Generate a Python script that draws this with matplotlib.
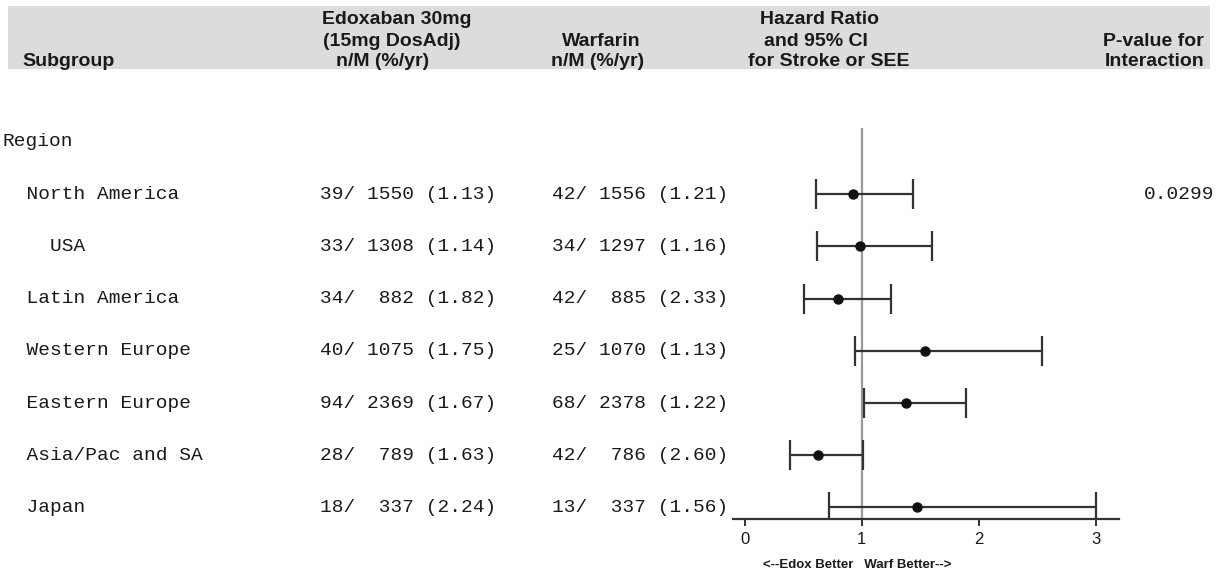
import numpy as np
import matplotlib
matplotlib.use('Agg')
import matplotlib.pyplot as plt
from matplotlib.patches import Rectangle
from matplotlib.transforms import blended_transform_factory

# data
group_label = 'Region'
subgroups = ['North America', 'USA', 'Latin America', 'Western Europe',
             'Eastern Europe', 'Asia/Pac and SA', 'Japan']
indent = [2, 4, 2, 2, 2, 2, 2]
edox_n = [39, 33, 34, 40, 94, 28, 18]
edox_m = [1550, 1308, 882, 1075, 2369, 789, 337]
edox_rate = [1.13, 1.14, 1.82, 1.75, 1.67, 1.63, 2.24]
warf_n = [42, 34, 42, 25, 68, 42, 13]
warf_m = [1556, 1297, 885, 1070, 2378, 786, 337]
warf_rate = [1.21, 1.16, 2.33, 1.13, 1.22, 2.60, 1.56]
hr = [0.93, 0.99, 0.80, 1.54, 1.38, 0.63, 1.47]
hr_lo = [0.61, 0.62, 0.51, 0.94, 1.02, 0.39, 0.72]
hr_hi = [1.44, 1.60, 1.25, 2.54, 1.89, 1.01, 3.00]
p_interaction = ['0.0299', '', '', '', '', '', '']
x_ticks = [0, 1, 2, 3]

W, H = 1220, 574
MONO = 'Liberation Mono'
SANS = 'Liberation Sans'
TXT = '#1a1a1a'


def fx(px):
    return px / W


def fy(py):
    return 1 - py / H


fig = plt.figure(figsize=(W / 100, H / 100), dpi=100)

# grey header band
fig.patches.append(Rectangle((fx(8), fy(69)), fx(1210) - fx(8), fy(6) - fy(69),
                             transform=fig.transFigure, facecolor='#dcdcdc',
                             edgecolor='none', zorder=0))

hdr = dict(fontsize=14, fontweight='bold', family=SANS, color=TXT, va='center')
fig.text(fx(22), fy(62), 'Subgroup', ha='left', **hdr)
fig.text(fx(397), fy(19), 'Edoxaban 30mg', ha='center', **hdr)
fig.text(fx(392), fy(41), '(15mg DosAdj)', ha='center', **hdr)
fig.text(fx(383), fy(62), 'n/M (%/yr)', ha='center', **hdr)
fig.text(fx(601), fy(41), 'Warfarin', ha='center', **hdr)
fig.text(fx(598), fy(62), 'n/M (%/yr)', ha='center', **hdr)
fig.text(fx(820), fy(19), 'Hazard Ratio', ha='center', **hdr)
fig.text(fx(816), fy(41), 'and 95% CI', ha='center', **hdr)
fig.text(fx(829), fy(62), 'for Stroke or SEE', ha='center', **hdr)
fig.text(fx(1204), fy(41), 'P-value for', ha='right', **hdr)
fig.text(fx(1204), fy(62), 'Interaction', ha='right', **hdr)

# forest plot axes
ax = fig.add_axes([fx(733), fy(519), fx(1119) - fx(733), fy(128) - fy(519)])
rows = np.arange(1, len(subgroups) + 1)
ax.set_xlim(-0.1, 3.2)
ax.set_ylim(7.222, -0.268)

ax.axvline(1, color='#9a9a9a', lw=1.6, zorder=1)
hr_a = np.array(hr)
err = [hr_a - np.array(hr_lo), np.array(hr_hi) - hr_a]
ax.errorbar(hr, rows, xerr=err, fmt='o', color='#111111', ecolor='#333333',
            elinewidth=1.6, capsize=11, capthick=1.6, markersize=6.5, zorder=3)

for s in ['top', 'left', 'right']:
    ax.spines[s].set_visible(False)
ax.spines['bottom'].set_linewidth(1.6)
ax.spines['bottom'].set_color('#333333')
ax.set_yticks([])
ax.set_xticks(x_ticks)
ax.set_xticklabels([str(t) for t in x_ticks], family=SANS, fontsize=12, color=TXT)
ax.tick_params(axis='x', direction='out', length=5, width=1.4, color='#333333', pad=4)
ax.patch.set_alpha(0)

fig.text(fx(763), fy(565), '<--Edox Better   Warf Better-->', ha='left', va='center',
         fontsize=9.5, fontweight='bold', family=SANS, color=TXT)

# table text, rows aligned with the forest axes
tr = blended_transform_factory(fig.transFigure, ax.transData)
mono = dict(fontsize=14, family=MONO, color=TXT, va='center', transform=tr, clip_on=False)
fig.text(fx(3), 0, group_label, ha='left', **mono)
for i, r in enumerate(rows):
    fig.text(fx(3), r, ' ' * indent[i] + subgroups[i], ha='left', **mono)
    fig.text(fx(320), r, f'{edox_n[i]:2d}/ {edox_m[i]:4d} ({edox_rate[i]:.2f})', ha='left', **mono)
    fig.text(fx(552), r, f'{warf_n[i]:2d}/ {warf_m[i]:4d} ({warf_rate[i]:.2f})', ha='left', **mono)
    if p_interaction[i]:
        fig.text(fx(1214), r, p_interaction[i], ha='right', **mono)

fig.savefig('out.png', dpi=100)
